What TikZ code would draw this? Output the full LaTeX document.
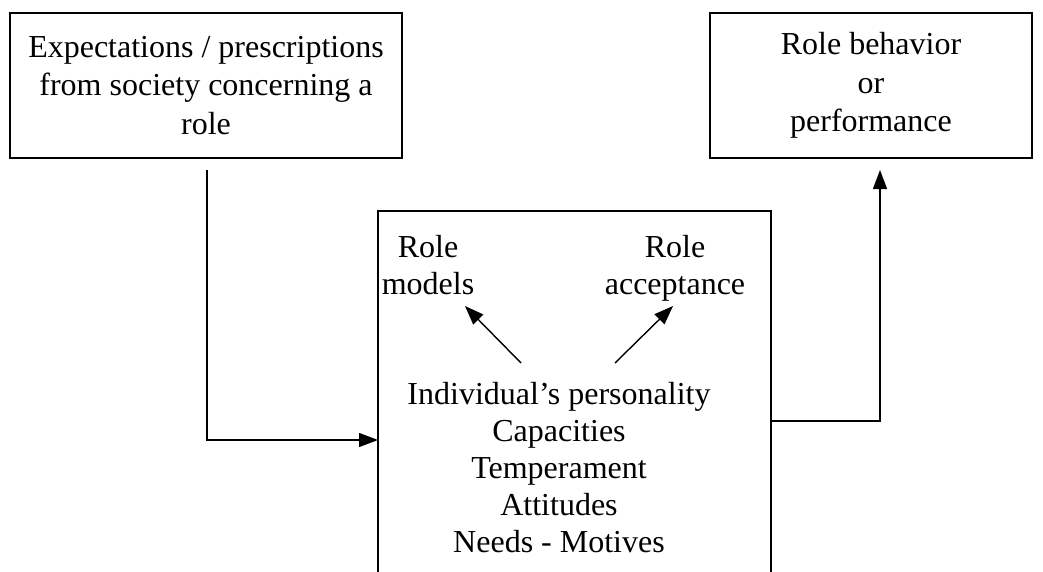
\documentclass[tikz,border=0pt]{standalone}
\usepackage{fontspec}
\setmainfont{Liberation Serif}
\usetikzlibrary{arrows.meta}
\begin{document}
\begin{tikzpicture}[x=1pt,y=-1pt,
  txt/.style={font=\fontsize{32}{36.8}\selectfont, align=center, inner sep=0pt, anchor=base},
  boxnode/.style={draw, line width=1.4pt, inner sep=0pt, align=center, font=\fontsize{32}{38.5}\selectfont},
  conn/.style={line width=1.4pt, -{Triangle[length=19pt,width=14pt]}},
  line/.style={line width=1.4pt}]
\useasboundingbox (0,0) rectangle (1043,572);
\node[boxnode, minimum width=392pt, minimum height=145pt] (exp) at (206,85.5) {Expectations / prescriptions\\from society concerning a\\role};
\node[boxnode, minimum width=322pt, minimum height=145pt] (beh) at (871,85.5) {Role behavior\\or\\performance};
\coordinate (mtl) at (378,211);
\coordinate (mtr) at (771,211);
\coordinate (mbl) at (378,572);
\coordinate (mbr) at (771,572);
\draw[line] (mbl) -- (mtl) -- (mtr) -- (mbr);
\node[txt] (models) at (428,294) {Role\\models};
\node[txt] (accept) at (675,294) {Role\\acceptance};
\node[txt] (pers) at (559,552) {Individual’s personality\\Capacities\\Temperament\\Attitudes\\Needs - Motives};
\coordinate (la) at (521,363);
\coordinate (ra) at (615,363);
\draw[conn] (la) -- (465,306);
\draw[conn] (ra) -- (673,306);
\coordinate (s1) at (207,170);
\coordinate (e1) at (378,440);
\draw[conn] (s1) |- (e1);
\coordinate (s2) at (771,421);
\coordinate (e2) at (880,170);
\draw[conn] (s2) -| (e2);
\end{tikzpicture}
\end{document}
